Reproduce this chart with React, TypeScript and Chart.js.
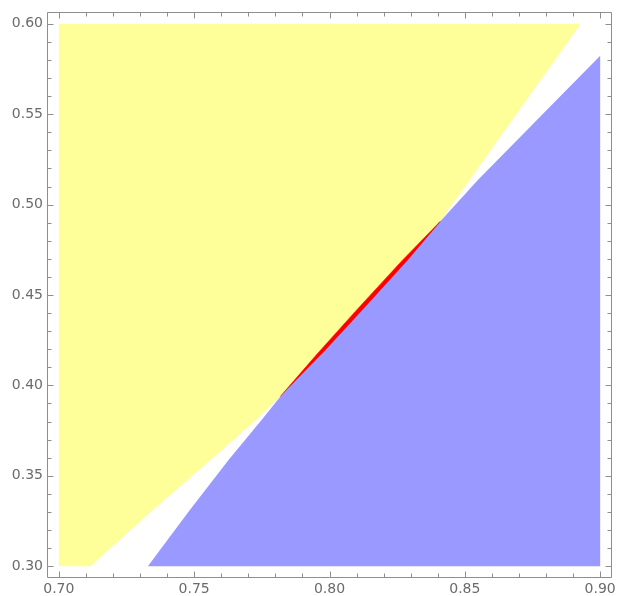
import React, { useEffect, useRef } from 'react';
import { Chart, registerables } from 'chart.js';

Chart.register(...registerables);

// Axis ranges and tick labels
const xRange = [0.696, 0.904];
const yRange = [0.294, 0.606];
const xMajorTicks = [0.7, 0.75, 0.8, 0.85, 0.9];
const yMajorTicks = [0.3, 0.35, 0.4, 0.45, 0.5, 0.55, 0.6];
const minorPerMajor = 5;

// Regions (x, y)
const yellowX = [0.7, 0.7, 0.8928, 0.8518, 0.8407, 0.8114, 0.782, 0.7728, 0.7561, 0.7347, 0.7117];
const yellowY = [0.3, 0.6, 0.6, 0.5137, 0.4904, 0.4423, 0.3941, 0.3808, 0.3587, 0.331, 0.3];

const blueX = [0.7329, 0.9, 0.9, 0.8549, 0.8407, 0.8114, 0.782, 0.7749, 0.7627, 0.7484, 0.7329];
const blueY = [0.3, 0.3, 0.5823, 0.5137, 0.4904, 0.4423, 0.3941, 0.3808, 0.3587, 0.331, 0.3];

const redX = [0.7818, 0.7952, 0.8104, 0.8268, 0.8409, 0.8286, 0.8124, 0.7968];
const redY = [0.3938, 0.417, 0.4423, 0.469, 0.4907, 0.469, 0.4423, 0.417];

const toPoints = (xs: number[], ys: number[]) => xs.map((x, i) => ({ x, y: ys[i] }));

const buildTicks = (majors: number[]) => {
  const out: number[] = [];
  for (let i = 0; i < majors.length - 1; i++) {
    const a = majors[i];
    const b = majors[i + 1];
    for (let k = 0; k < minorPerMajor; k++) out.push(+(a + ((b - a) * k) / minorPerMajor).toFixed(4));
  }
  out.push(majors[majors.length - 1]);
  return out;
};

const xAllTicks = buildTicks(xMajorTicks);
const yAllTicks = buildTicks(yMajorTicks);
const isMajor = (v: number, majors: number[]) => majors.some((m) => Math.abs(m - v) < 1e-6);

const FRAME = '#8e8e8e';
const LABEL = '#6b6b6b';

const framePlugin = {
  id: 'mmaFrame',
  afterDraw(chart: any) {
    const { ctx, chartArea: a, scales } = chart;
    ctx.save();
    ctx.strokeStyle = FRAME;
    ctx.lineWidth = 1;
    const L = a.left - 0.5;
    const R = a.right + 0.5;
    const T = a.top - 0.5;
    const B = a.bottom + 0.5;
    ctx.beginPath();
    ctx.rect(L, T, R - L, B - T);
    ctx.stroke();
    ctx.beginPath();
    xAllTicks.forEach((v) => {
      const len = isMajor(v, xMajorTicks) ? 6 : 4;
      const px = Math.round(scales.x.getPixelForValue(v)) + 0.5;
      ctx.moveTo(px, B);
      ctx.lineTo(px, B - len);
      ctx.moveTo(px, T);
      ctx.lineTo(px, T + len);
    });
    yAllTicks.forEach((v) => {
      const len = isMajor(v, yMajorTicks) ? 6 : 4;
      const py = Math.round(scales.y.getPixelForValue(v)) + 0.5;
      ctx.moveTo(L, py);
      ctx.lineTo(L + len, py);
      ctx.moveTo(R, py);
      ctx.lineTo(R - len, py);
    });
    ctx.stroke();
    ctx.restore();
  },
};

const region = (pts: { x: number; y: number }[], color: string, border: string, bw: number) => ({
  data: pts,
  showLine: true,
  fill: 'shape',
  backgroundColor: color,
  borderColor: border,
  borderWidth: bw,
  pointRadius: 0,
  tension: 0,
});

export default function App() {
  const ref = useRef<HTMLCanvasElement | null>(null);
  useEffect(() => {
    if (!ref.current) return;
    const tickFont = { family: 'DejaVu Sans', size: 14 };
    const chart = new Chart(ref.current, {
      type: 'scatter',
      data: {
        // index 0 is painted last (on top)
        datasets: [
          region(toPoints(redX, redY), 'rgb(255,0,0)', 'rgb(255,0,0)', 0.6),
          region(toPoints(blueX, blueY), 'rgb(153,153,255)', 'rgba(0,0,0,0)', 0),
          region(toPoints(yellowX, yellowY), 'rgb(255,255,153)', 'rgba(0,0,0,0)', 0),
        ],
      } as any,
      options: {
        responsive: false,
        animation: false,
        layout: { padding: { top: 13, right: 6, left: 0, bottom: 0 } },
        plugins: { legend: { display: false }, tooltip: { enabled: false } },
        scales: {
          x: {
            type: 'linear',
            min: xRange[0],
            max: xRange[1],
            grid: { display: false, drawTicks: false },
            border: { display: false },
            afterBuildTicks: (s: any) => {
              s.ticks = xAllTicks.map((value) => ({ value }));
            },
            afterFit: (s: any) => {
              s.height = 19;
              s.paddingLeft = 0;
              s.paddingRight = 0;
            },
            ticks: {
              autoSkip: false,
              maxRotation: 0,
              minRotation: 0,
              padding: 4,
              color: LABEL,
              font: tickFont,
              callback: (v: any) => (isMajor(Number(v), xMajorTicks) ? Number(v).toFixed(2) : ''),
            },
          },
          y: {
            type: 'linear',
            min: yRange[0],
            max: yRange[1],
            grid: { display: false, drawTicks: false },
            border: { display: false },
            afterBuildTicks: (s: any) => {
              s.ticks = yAllTicks.map((value) => ({ value }));
            },
            afterFit: (s: any) => {
              s.width = 48;
              s.paddingTop = 0;
              s.paddingBottom = 0;
            },
            ticks: {
              autoSkip: false,
              padding: 5,
              color: LABEL,
              font: tickFont,
              callback: (v: any) => (isMajor(Number(v), yMajorTicks) ? Number(v).toFixed(2) : ''),
            },
          },
        },
      } as any,
      plugins: [framePlugin],
    });
    return () => chart.destroy();
  }, []);
  return (
    <div style={{ position: 'absolute', left: 0, top: 0, width: 617, height: 596, background: '#fff' }}>
      <canvas ref={ref} width={617} height={596} style={{ display: 'block' }} />
    </div>
  );
}
